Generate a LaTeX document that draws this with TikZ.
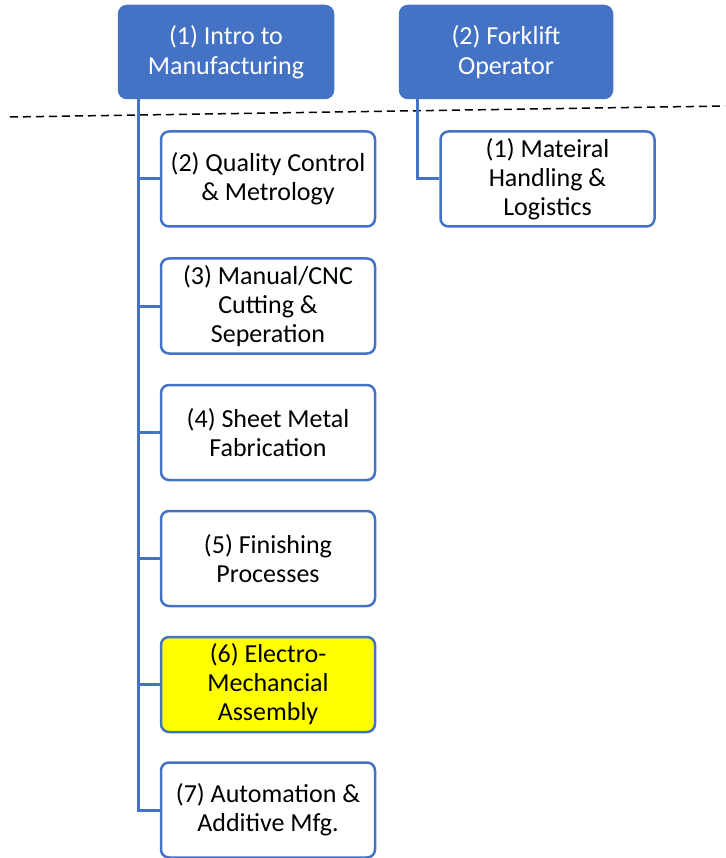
\documentclass[tikz,border=0pt]{standalone}
\usepackage{fontspec}
\setmainfont{Carlito}
\usetikzlibrary{calc}
\definecolor{chartblue}{RGB}{68, 114, 196}
\definecolor{chartyellow}{RGB}{255, 255, 0}
\tikzstyle{topbox} = [
  draw=chartblue,
  fill=chartblue,
  text=white,
  line width=2.5pt,
  rounded corners=8pt,
  minimum height=92pt,
  text width=205pt,
  align=flush center,
  font=\fontsize{26}{30}\selectfont,
]
\tikzstyle{subbox} = [
  draw=chartblue,
  fill=white,
  text=black,
  line width=2.5pt,
  rounded corners=8pt,
  minimum width=214pt,
  minimum height=95pt,
  text width=205pt,
  align=flush center,
  font=\fontsize{26}{29}\selectfont,
]
\tikzstyle{link} = [draw=chartblue, line width=3pt]
\begin{document}
\begin{tikzpicture}[x=1pt, y=-1pt]
            \useasboundingbox (0,0) rectangle (725,858);

            % Programs
            \node[topbox, minimum width=214pt] (prog1) at (226,52) {(1) Intro to\\Manufacturing};
            \node[topbox, minimum width=212pt] (prog2) at (506,52) {(2) Forklift\\Operator};

            % Divider
            \draw[line width=1.5pt, dash pattern=on 8pt off 5pt] (10,117) -- (725,106);

            % Courses
            \node[subbox] (qual) at (268,179) {(2) Quality Control\\\& Metrology};
            \node[subbox] (cut) at (268,306) {(3) Manual/CNC\\Cutting \&\\Seperation};
            \node[subbox] (sheet) at (268,432.5) {(4) Sheet Metal\\Fabrication};
            \node[subbox] (finish) at (268,558.5) {(5) Finishing\\Processes};
            \node[subbox, fill=chartyellow] (assy) at (268,684.5) {(6) Electro-\\Mechancial\\Assembly};
            \node[subbox] (auto) at (268,810) {(7) Automation \&\\Additive Mfg.};
            \node[subbox] (handle) at (547.5,179) {(1) Mateiral\\Handling \&\\Logistics};

            % Links
            \coordinate[xshift=21pt] (trunk) at (prog1.south west);
            \draw[link] (trunk) |- (auto.west);
            \foreach \n in {qual, cut, sheet, finish, assy}
              \draw[link] (trunk |- \n.west) -- (\n.west);
            \coordinate[xshift=19pt] (branch) at (prog2.south west);
            \draw[link] (branch) |- (handle.west);
          \end{tikzpicture}
\end{document}
